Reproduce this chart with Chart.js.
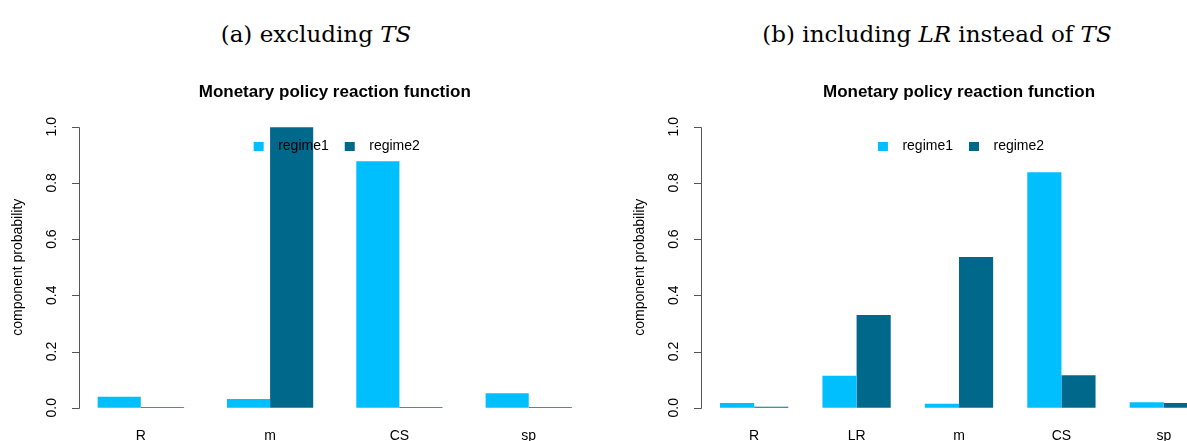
<!DOCTYPE html>
<html>
<head>
<meta charset="utf-8">
<script src="https://cdn.jsdelivr.net/npm/chart.js@4.4.1/dist/chart.umd.min.js"></script>
<style>
  html, body { margin: 0; padding: 0; width: 1187px; height: 441px; overflow: hidden; background: #fff; }
  .cap { position: absolute; top: 20px; width: 500px; text-align: center; font-family: "DejaVu Serif", "Liberation Serif", serif; font-size: 23px; line-height: 28px; color: #000; white-space: nowrap; }
  .cap i { font-style: italic; }
  canvas { position: absolute; top: 0; }
</style>
</head>
<body>
<div class="cap" id="capA" style="left:66px;">(a) excluding <i>TS</i></div>
<div class="cap" id="capB" style="left:687px;">(b) including <i>LR</i> instead of <i>TS</i></div>
<div style="position:absolute;left:0;top:0;width:600px;height:460px;"><canvas id="c1"></canvas></div>
<div style="position:absolute;left:600px;top:0;width:640px;height:460px;"><canvas id="c2"></canvas></div>
<script>
// ---- data ----
const chartTitle = "Monetary policy reaction function";
const yAxisLabel = "component probability";
const seriesNames = ["regime1", "regime2"];
const yTicks = [0, 0.2, 0.4, 0.6, 0.8, 1.0];
const yTickLabels = ["0.0", "0.2", "0.4", "0.6", "0.8", "1.0"];

const catsA = ["R", "m", "CS", "sp"];
const regime1A = [0.039, 0.031, 0.877, 0.052];
const regime2A = [0.003, 0.998, 0.003, 0.003];

const catsB = ["R", "LR", "m", "CS", "sp"];
const regime1B = [0.017, 0.114, 0.014, 0.838, 0.020];
const regime2B = [0.004, 0.330, 0.536, 0.116, 0.017];

const colors = ["#00BFFF", "#00688B"];
const SANS = '"Liberation Sans", Arial, Helvetica, sans-serif';

Chart.defaults.font.family = SANS;
Chart.defaults.font.size = 14;
Chart.defaults.color = "#000";

const rPlugin = {
  id: "rstyle",
  afterDraw(chart, args, opts) {
    const { ctx, chartArea } = chart;
    const y = chart.scales.y;
    const ax = Math.round(chartArea.left + opts.axisOffset);
    const cx = (chartArea.left + chartArea.right) / 2;
    ctx.save();
    // y axis line + ticks
    ctx.strokeStyle = "#555";
    ctx.lineWidth = 1;
    ctx.beginPath();
    const p0 = Math.round(y.getPixelForValue(yTicks[0])) + 0.5;
    const p1 = Math.round(y.getPixelForValue(yTicks[yTicks.length - 1])) + 0.5;
    ctx.moveTo(ax + 0.5, p0); ctx.lineTo(ax + 0.5, p1);
    yTicks.forEach(v => {
      const p = Math.round(y.getPixelForValue(v)) + 0.5;
      ctx.moveTo(ax + 0.5, p); ctx.lineTo(ax - 7, p);
    });
    ctx.stroke();
    // tick labels (rotated, R style)
    ctx.fillStyle = "#000";
    ctx.font = "14px " + SANS;
    ctx.textAlign = "center";
    ctx.textBaseline = "middle";
    yTicks.forEach((v, i) => {
      ctx.save();
      ctx.translate(ax - 27, y.getPixelForValue(v));
      ctx.rotate(-Math.PI / 2);
      ctx.fillText(yTickLabels[i], 0, 0);
      ctx.restore();
    });
    // y label
    ctx.save();
    ctx.translate(ax - 61, (chartArea.top + chartArea.bottom) / 2);
    ctx.rotate(-Math.PI / 2);
    ctx.fillText(yAxisLabel, 0, 0);
    ctx.restore();
    // title
    ctx.font = "bold 17px " + SANS;
    ctx.textBaseline = "alphabetic";
    ctx.fillText(chartTitle, cx, 97);
    // legend
    ctx.font = "14px " + SANS;
    ctx.textAlign = "left";
    ctx.textBaseline = "middle";
    const ds = chart.data.datasets;
    const widths = ds.map(d => ctx.measureText(d.label).width);
    const total = ds.length * (10 + 14.5) + widths.reduce((a, b) => a + b, 0) + 16 * (ds.length - 1);
    let lx = cx + 2 - total / 2;
    const ly = 146.5;
    ds.forEach((d, i) => {
      ctx.fillStyle = d.backgroundColor;
      ctx.fillRect(lx, ly - 4.5, 10, 9);
      ctx.fillStyle = "#000";
      ctx.fillText(d.label, lx + 24.5, ly);
      lx += 24.5 + widths[i] + 16;
    });
    ctx.restore();
  }
};

function makeChart(id, cats, r1, r2, pad, axisOffset) {
  const n = cats.length;
  return new Chart(document.getElementById(id), {
    type: "bar",
    data: {
      labels: cats,
      datasets: [
        { label: seriesNames[0], data: r1, backgroundColor: colors[0], borderWidth: 0 },
        { label: seriesNames[1], data: r2, backgroundColor: colors[1], borderWidth: 0 }
      ]
    },
    options: {
      responsive: true,
      maintainAspectRatio: false,
      animation: false,
      events: [],
      layout: { padding: pad },
      datasets: { bar: { categoryPercentage: 2 / 3, barPercentage: 1 } },
      plugins: { legend: { display: false }, tooltip: { enabled: false }, title: { display: false }, rstyle: { axisOffset } },
      scales: {
        x: {
          type: "category",
          offset: true,
          grid: { display: false, drawTicks: false },
          border: { display: false },
          ticks: { padding: 9, maxRotation: 0, minRotation: 0, autoSkip: false, color: "#000", font: { size: 14 } },
          afterBuildTicks: s => { s._startValue = -0.48; s._valueRange = n - 0.04; },
          afterFit: s => { s.height = 30; }
        },
        y: {
          display: false,
          min: -0.04,
          max: 1.04
        }
      }
    },
    plugins: [rPlugin]
  });
}

makeChart("c1", catsA, regime1A, regime2A, { left: 78.7, right: 9.2, top: 115.4, bottom: 11 }, 0);
makeChart("c2", catsB, regime1B, regime2B, { left: 105, right: 27, top: 115.4, bottom: 11 }, -4);
</script>
</body>
</html>
